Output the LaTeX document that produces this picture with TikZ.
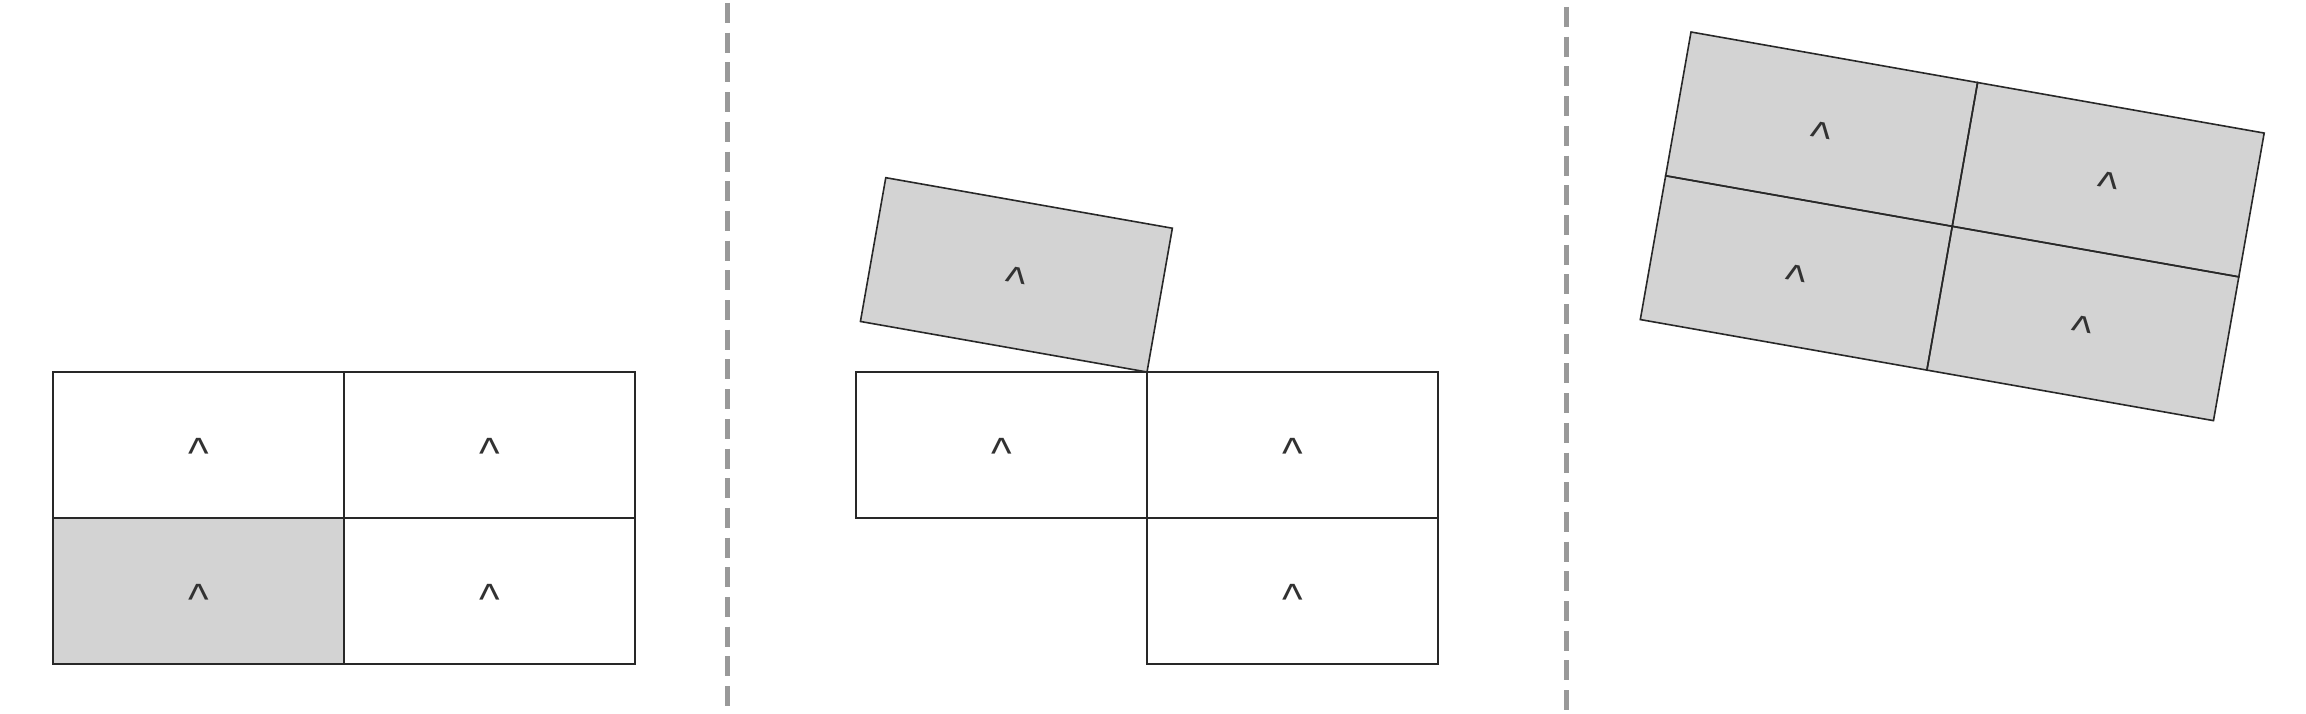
\documentclass[tikz,border=0pt]{standalone}
\usepackage{fontspec}
\setmainfont{Liberation Sans}
\definecolor{cellgray}{RGB}{211,211,211}
\definecolor{sepgray}{RGB}{153,153,153}
\definecolor{edgecol}{RGB}{40,40,40}
\definecolor{caretcol}{RGB}{50,50,50}
\begin{document}
\begin{tikzpicture}[x=1bp,y=-1bp,
  cell/.style={rectangle, minimum width=291bp, minimum height=146bp, inner sep=0pt, outer sep=0pt},
  filled/.style={cell, fill=cellgray},
  plain/.style={cell, fill=white},
  border/.style={draw=edgecol, line width=1.6bp, line join=miter},
  caret/.style={font=\fontsize{44}{44}\selectfont, text=caretcol, inner sep=0pt, anchor=base},
  sepline/.style={draw=sepgray, line width=5bp, dash pattern=on 20bp off 9.7bp}
]
\useasboundingbox (0,0) rectangle (2306,714);

% ---------- left panel ----------
\node[plain]  (L11) at (198.5,445) {};
\node[plain]  (L12) at (489.5,445) {};
\node[filled] (L21) at (198.5,591) {};
\node[plain]  (L22) at (489.5,591) {};
\node[caret] (cL11) at ([yshift=-23bp]L11.center) {\textasciicircum};
\node[caret] (cL12) at ([yshift=-23bp]L12.center) {\textasciicircum};
\node[caret] (cL21) at ([yshift=-23bp]L21.center) {\textasciicircum};
\node[caret] (cL22) at ([yshift=-23bp]L22.center) {\textasciicircum};

% ---------- separator 1 ----------
\coordinate (s1a) at (727.5,3);
\coordinate (s1b) at (727.5,706);
\draw[sepline] (s1a) -- (s1b);

% ---------- middle panel ----------
\node[plain] (M1) at (1001.5,445) {};
\node[plain] (M2) at (1292.5,445) {};
\node[plain] (M3) at (1292.5,591) {};
\node[caret] (cM1) at ([yshift=-23bp]M1.center) {\textasciicircum};
\node[caret] (cM2) at ([yshift=-23bp]M2.center) {\textasciicircum};
\node[caret] (cM3) at ([yshift=-23bp]M3.center) {\textasciicircum};
\begin{scope}[shift={(1147,372)}, rotate=-10, transform shape]
  \node[filled] (MR) at (-145.5,-73) {};
  \node[caret] (cMR) at (-145.5,-50) {\textasciicircum};
\end{scope}

% ---------- separator 2 ----------
\coordinate (s2a) at (1566,7);
\coordinate (s2b) at (1566,710);
\draw[sepline] (s2a) -- (s2b);

% ---------- right panel ----------
\begin{scope}[shift={(1691,32)}, rotate=-10, transform shape]
  \node[filled] (R11) at (145.5,73) {};
  \node[filled] (R12) at (436.5,73) {};
  \node[filled] (R21) at (145.5,219) {};
  \node[filled] (R22) at (436.5,219) {};
  \node[caret] (cR11) at (145.5,96) {\textasciicircum};
  \node[caret] (cR12) at (436.5,96) {\textasciicircum};
  \node[caret] (cR21) at (145.5,242) {\textasciicircum};
  \node[caret] (cR22) at (436.5,242) {\textasciicircum};
\end{scope}

% ---------- cell borders (drawn over all fills) ----------
\foreach \n in {L11,L12,L21,L22,M1,M2,M3,MR,R11,R12,R21,R22}
  \draw[border] (\n.north west) -- (\n.north east) -- (\n.south east) -- (\n.south west) -- cycle;
\end{tikzpicture}
\end{document}
